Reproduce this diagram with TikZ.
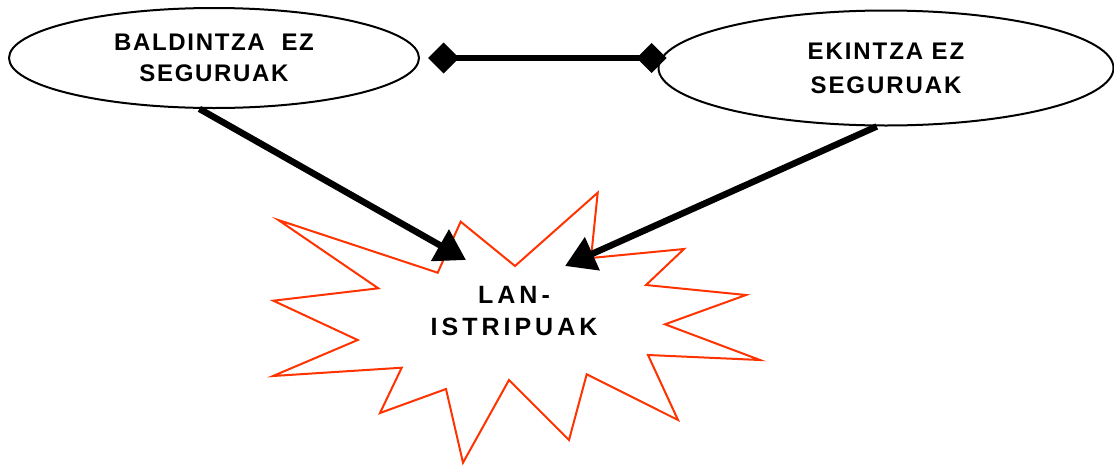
\documentclass[tikz,border=0pt]{standalone}
\usepackage{fontspec}
\setmainfont{Liberation Sans}
\usetikzlibrary{shapes.geometric,arrows.meta}

\definecolor{starred}{RGB}{255,51,0}

\tikzset{
	cloud/.style={draw, ellipse, line width=2pt, inner sep=0pt, align=center},
	label/.style={align=center, inner sep=0pt,
		font=\fontsize{25}{32}\selectfont\bfseries\addfontfeature{LetterSpace=16}},
	cause/.style={line width=6.5pt, -{Triangle[length=30pt,width=35pt]}}
}

\begin{document}
\begin{tikzpicture}[x=1pt, y=-1pt]
		\useasboundingbox (0, 0) rectangle (1114, 464);

		\node[cloud, minimum width=410pt, minimum height=100pt,
			font=\fontsize{24}{30.5}\selectfont\bfseries\addfontfeature{LetterSpace=7}]
			(baldintza) at (214, 58) {BALDINTZA\ \ EZ\\SEGURUAK};
		\node[cloud, minimum width=455pt, minimum height=115pt,
			font=\fontsize{24}{34}\selectfont\bfseries\addfontfeature{LetterSpace=8}]
			(ekintza) at (886, 68) {EKINTZA EZ\\SEGURUAK};

		% istripua
		\draw[starred, line width=2pt, fill=white] (460.7, 221.7) -- (515, 266) -- (597.7, 192.7)
			-- (591, 258) -- (684, 249) -- (646, 285) -- (746, 295) -- (665, 324.3)
			-- (760, 360) -- (648, 355) -- (678, 420) -- (586.7, 374.3) -- (569, 440)
			-- (509, 380) -- (463, 462.7) -- (446, 389) -- (380, 413) -- (401.7, 367.7)
			-- (273, 376) -- (357.7, 340) -- (273.3, 300.7) -- (378.3, 288.3)
			-- (278.3, 220) -- (437.7, 272.7) -- cycle;
		\node[label] (istripua) at (514, 311) {LAN-\\ISTRIPUAK};

		\coordinate (tipL) at (466, 260);
		\coordinate (tipR) at (565, 266);

		\draw[line width=6pt, {Diamond[length=31pt,width=31pt]}-{Diamond[length=30pt,width=30pt]}]
			([xshift=8pt]baldintza.east) -- ([xshift=9pt]ekintza.west |- baldintza.east);

		\draw[cause] (baldintza.-106) -- (tipL);
		\draw[cause] (ekintza.-99) -- (tipR);
	\end{tikzpicture}
\end{document}
